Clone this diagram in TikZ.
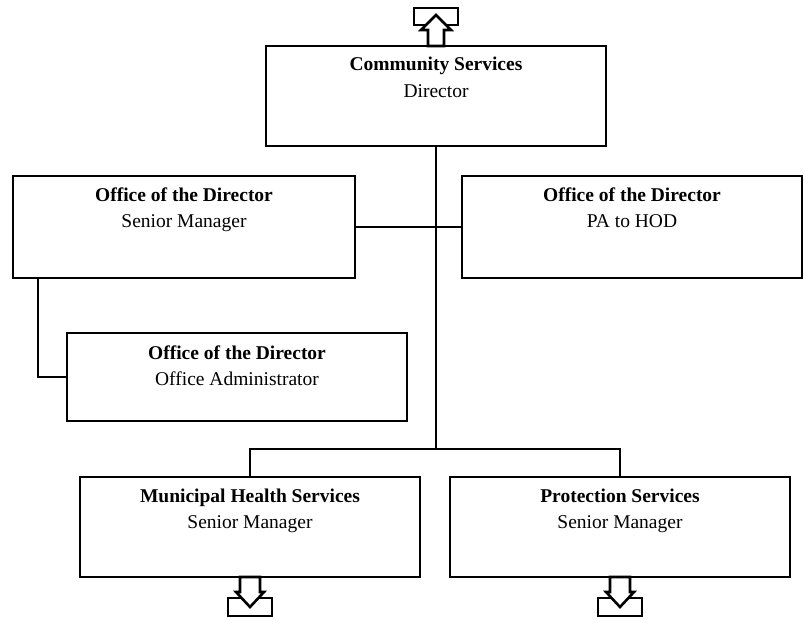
\documentclass[tikz,border=0pt]{standalone}
\usepackage{fontspec}
\setmainfont{Liberation Serif}
\begin{document}
\begin{tikzpicture}[x=1pt,y=-1pt,
  box/.style={draw=black,line width=2.4pt,rectangle,inner sep=0pt,fill=white,minimum width=340pt},
  conn/.style={draw=black,line width=2.4pt},
  icon/.style={draw=black,line width=2.6pt,fill=white,line join=miter},
  ttl/.style={anchor=base,inner sep=0pt,font=\fontsize{19.5}{22}\selectfont\bfseries},
  sub/.style={anchor=base,inner sep=0pt,font=\fontsize{19.5}{22}\selectfont}]
\useasboundingbox[fill=white] (0,0) rectangle (804,620);

% boxes
\node[box,minimum height=100pt] (cs) at (436,96) {};
\node[box,minimum width=342pt,minimum height=102pt] (sm) at (184,227) {};
\node[box,minimum height=102pt] (pa) at (632,227) {};
\node[box,minimum height=88pt] (oa) at (237,377) {};
\node[box,minimum height=100pt] (mh) at (250,527) {};
\node[box,minimum height=100pt] (ps) at (620,527) {};

% texts
\node[ttl] (cst) at (436,71) {Community Services};
\node[sub] (css) at (436,97.5) {Director};
\node[ttl] (smt) at (184,201.5) {Office of the Director};
\node[sub] (sms) at (184,228) {Senior Manager};
\node[ttl] (pat) at (632,201.5) {Office of the Director};
\node[sub] (pas) at (632,228) {PA to HOD};
\node[ttl] (oat) at (237,360) {Office of the Director};
\node[sub] (oas) at (237,385.5) {Office Administrator};
\node[ttl] (mht) at (250,502) {Municipal Health Services};
\node[sub] (mhs) at (250,528.5) {Senior Manager};
\node[ttl] (pst) at (620,502) {Protection Services};
\node[sub] (pss) at (620,528.5) {Senior Manager};

% connectors
\coordinate (j1) at (436,449);
\coordinate (bl) at (250,449);
\coordinate (br) at (620,449);
\draw[conn] (cs.south) -- (j1);
\draw[conn] (sm.east) -- (pa.west);
\draw[conn] ([xshift=26pt]sm.south west) |- (oa.west);
\draw[conn,line cap=rect] (bl) -- (br);
\draw[conn] (bl) -- (mh.north);
\draw[conn] (br) -- (ps.north);

% off-page icons
\draw[icon] (414,8) rectangle (458,25);
\draw[icon] (436,15) -- (451,30) -- (444,30) -- (444,46) -- (428,46) -- (428,30) -- (421,30) -- cycle;

\draw[icon] (228,598) rectangle (272,616);
\draw[icon] (250,607) -- (264,592) -- (260,592) -- (260,577) -- (240,577) -- (240,592) -- (236,592) -- cycle;

\draw[icon] (598,598) rectangle (642,616);
\draw[icon] (620,607) -- (634,592) -- (630,592) -- (630,577) -- (610,577) -- (610,592) -- (606,592) -- cycle;
\end{tikzpicture}
\end{document}
